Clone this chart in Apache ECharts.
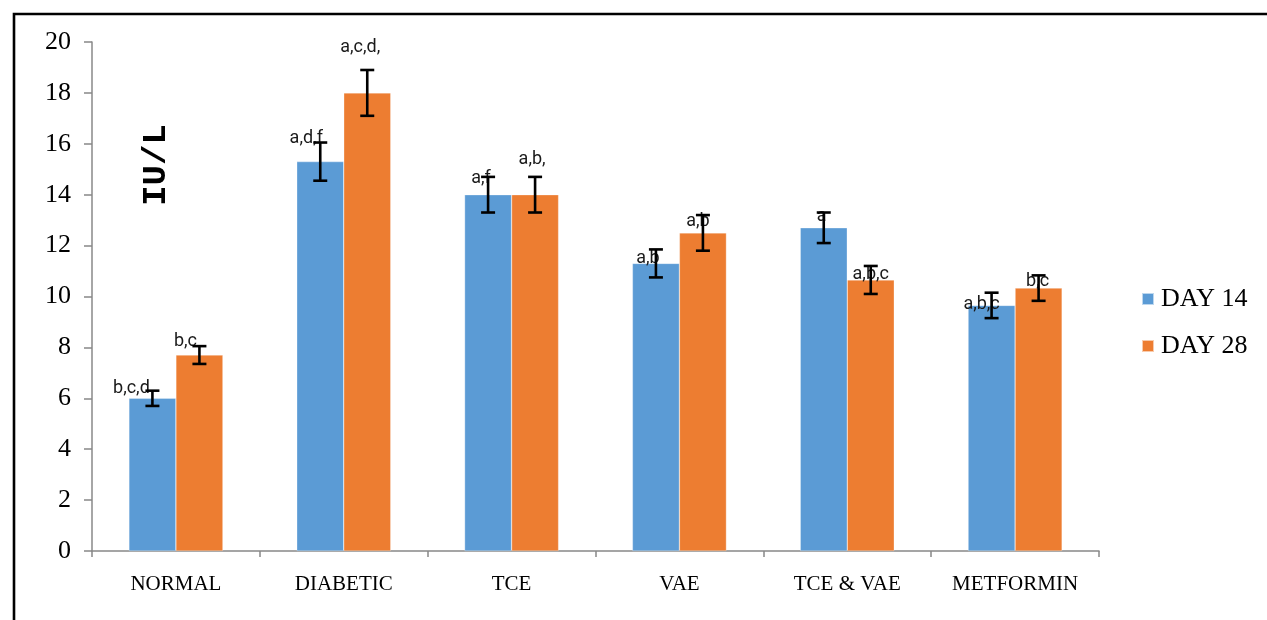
<!DOCTYPE html>
<html>
<head>
<meta charset="utf-8">
<script src="https://cdn.jsdelivr.net/npm/echarts@6/dist/echarts.min.js"></script>
<style>
  html, body { margin: 0; padding: 0; background: #ffffff; }
  #chart { width: 1267px; height: 620px; }
</style>
</head>
<body>
<div id="chart"></div>
<script>
// Enzyme activity (IU/L) per treatment group at two time points
const groups = ['NORMAL', 'DIABETIC', 'TCE', 'VAE', 'TCE & VAE', 'METFORMIN'];
const seriesNames = ['DAY 14', 'DAY 28'];

const day14 = [6.0, 15.3, 14.0, 11.3, 12.7, 9.65];
const day28 = [7.7, 18.0, 14.0, 12.5, 10.65, 10.33];

// standard error for each bar
const day14Err = [0.3, 0.75, 0.7, 0.55, 0.6, 0.5];
const day28Err = [0.35, 0.9, 0.7, 0.7, 0.55, 0.5];

// significance letters above each bar
const day14Sig = ['b,c,d', 'a,d,f', 'a,f', 'a,b', 'a', 'a,b,c'];
const day28Sig = ['b,c', 'a,c,d,', 'a,b,', 'a,b', 'a,b,c', 'b,c'];

const yTicks = { min: 0, max: 20, step: 2 };

// label nudges (px) relative to the top of each bar
const day14LabelShift = [[-21, -1], [-14, -14], [-7, -7], [-8, 4], [-2, -2], [-10, 8]];
const day28LabelShift = [[-14, -5], [-7, -36], [-3, -26], [-5, -2], [0, 4], [-1, 2]];

const colors = ['#5B9BD5', '#ED7D31'];
const BAR_W = 47;

function barData(values, sig, shift) {
  return values.map((v, i) => ({
    value: v,
    label: { formatter: sig[i], offset: shift[i] }
  }));
}

function errorSeries(values, errs, side) {
  return {
    type: 'custom',
    silent: true,
    z: 10,
    data: values.map((v, i) => [i, v, errs[i]]),
    renderItem: function (params, api) {
      const i = api.value(0), v = api.value(1), e = api.value(2);
      const hi = api.coord([i, v + e]);
      const lo = api.coord([i, v - e]);
      const x = hi[0] + side * BAR_W / 2;
      const cap = 7;
      const style = { stroke: '#000000', lineWidth: 2.6 };
      return {
        type: 'group',
        children: [
          { type: 'line', shape: { x1: x, y1: hi[1], x2: x, y2: lo[1] }, style: style },
          { type: 'line', shape: { x1: x - cap, y1: hi[1], x2: x + cap, y2: hi[1] }, style: style },
          { type: 'line', shape: { x1: x - cap, y1: lo[1], x2: x + cap, y2: lo[1] }, style: style }
        ]
      };
    }
  };
}

const labelStyle = {
  show: true,
  position: 'top',
  distance: 0,
  fontFamily: 'Roboto, "Liberation Sans", sans-serif',
  fontSize: 18,
  color: '#1a1a1a'
};

const serif = '"Liberation Serif", "Times New Roman", serif';

const chart = echarts.init(document.getElementById('chart'), null, { renderer: 'canvas' });

chart.setOption({
  animation: false,
  backgroundColor: '#ffffff',
  color: colors,
  grid: { left: 92, right: 168, top: 42, bottom: 69, containLabel: false },
  legend: {
    orient: 'vertical',
    left: 1141,
    top: 286,
    padding: 0,
    itemWidth: 12,
    itemHeight: 12,
    itemGap: 21,
    icon: 'rect',
    data: seriesNames,
    textStyle: { fontFamily: serif, fontSize: 26, color: '#000000', padding: [0, 0, 0, 2] }
  },
  xAxis: {
    type: 'category',
    data: groups,
    axisLine: { lineStyle: { color: '#888888', width: 1.5 } },
    axisTick: { show: true, length: 6, lineStyle: { color: '#888888', width: 1.5 } },
    axisLabel: { margin: 23, fontFamily: serif, fontSize: 21, color: '#000000' },
    splitLine: { show: false }
  },
  yAxis: {
    type: 'value',
    min: yTicks.min,
    max: yTicks.max,
    interval: yTicks.step,
    axisLine: { show: true, lineStyle: { color: '#888888', width: 1.5 } },
    axisTick: { show: true, length: 8, lineStyle: { color: '#888888', width: 1.5 } },
    axisLabel: { margin: 21, fontFamily: serif, fontSize: 26, color: '#000000' },
    splitLine: { show: false }
  },
  graphic: [
    {
      type: 'rect',
      x: 14,
      y: 14,
      shape: { x: 0, y: 0, width: 1400, height: 800 },
      style: { fill: 'none', stroke: '#000000', lineWidth: 2.6 },
      silent: true
    },
    {
      type: 'text',
      x: 156,
      y: 165,
      rotation: Math.PI / 2,
      style: {
        text: 'IU/L',
        fontFamily: '"Liberation Mono", "Courier New", monospace',
        fontWeight: 'bold',
        fontSize: 34,
        fill: '#000000',
        align: 'center',
        verticalAlign: 'middle'
      }
    }
  ],
  series: [
    {
      name: seriesNames[0],
      type: 'bar',
      barWidth: BAR_W,
      barGap: '0%',
      itemStyle: { color: colors[0], borderColor: 'rgba(255,255,255,0.6)', borderWidth: 0.5 },
      label: labelStyle,
      data: barData(day14, day14Sig, day14LabelShift)
    },
    {
      name: seriesNames[1],
      type: 'bar',
      barWidth: BAR_W,
      barGap: '0%',
      itemStyle: { color: colors[1], borderColor: 'rgba(255,255,255,0.6)', borderWidth: 0.5 },
      label: labelStyle,
      data: barData(day28, day28Sig, day28LabelShift)
    },
    errorSeries(day14, day14Err, -1),
    errorSeries(day28, day28Err, 1)
  ]
});
</script>
</body>
</html>
